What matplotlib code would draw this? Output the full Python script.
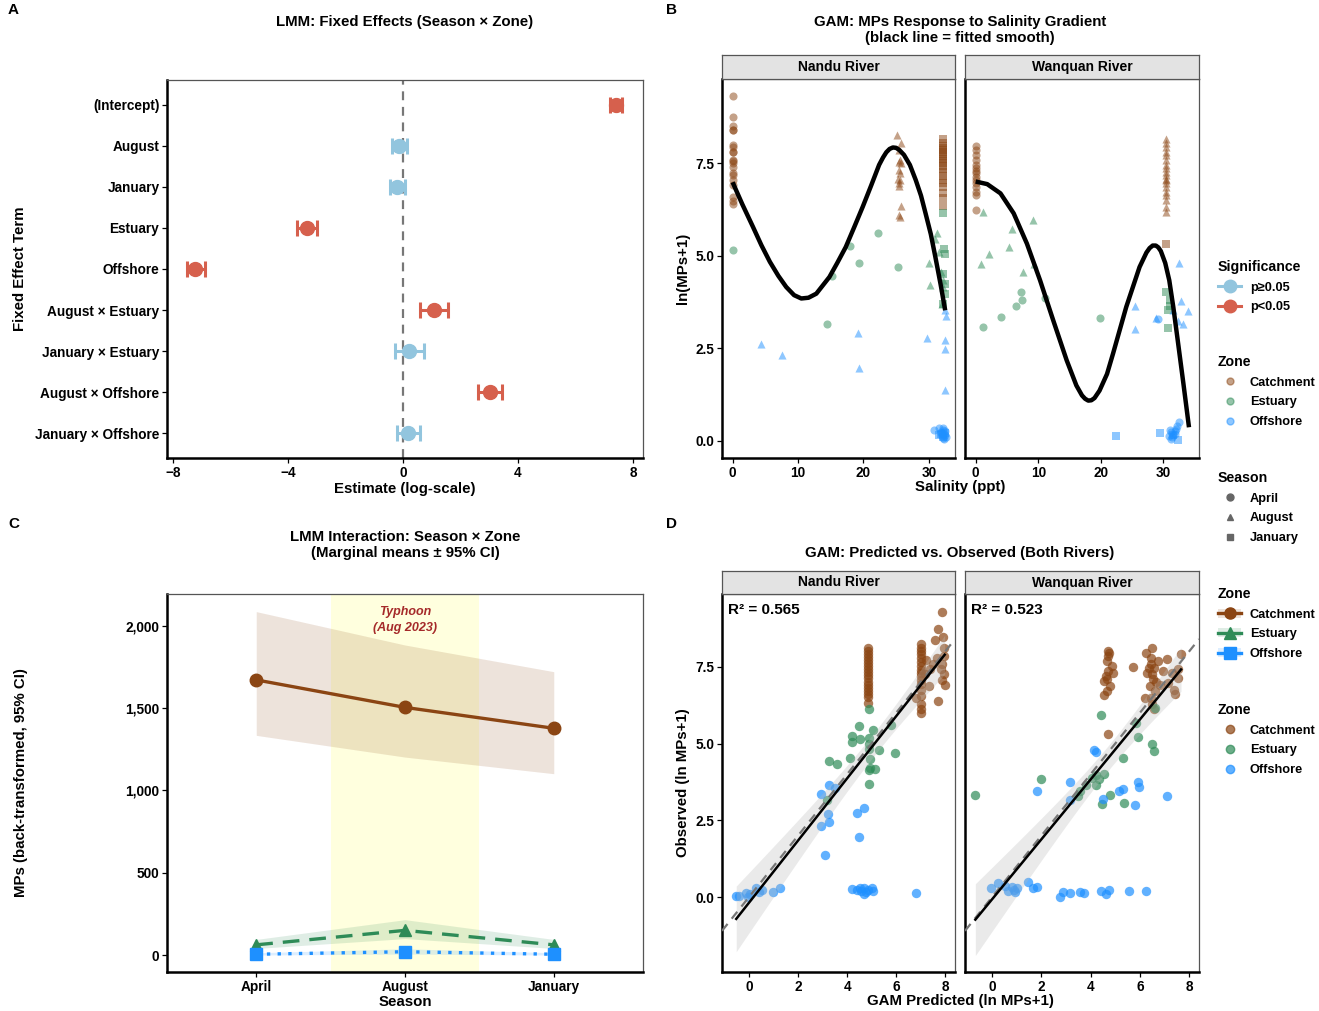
import matplotlib
matplotlib.use("Agg")
import matplotlib.pyplot as plt
from matplotlib.lines import Line2D
from matplotlib.patches import Patch
from matplotlib.ticker import FuncFormatter
import numpy as np

plt.rcParams["font.family"] = ["Liberation Sans", "DejaVu Sans"]
plt.rcParams["font.weight"] = "bold"
plt.rcParams["axes.labelweight"] = "bold"

# ---------------- data: panel A (LMM fixed effects)
terms = ["(Intercept)", "August", "January", "Estuary", "Offshore",
         "August × Estuary", "January × Estuary", "August × Offshore",
         "January × Offshore"]
estimate = [7.41, -0.12, -0.19, -3.32, -7.21, 1.08, 0.22, 3.04, 0.18]
ci_low = [7.19, -0.38, -0.44, -3.67, -7.50, 0.60, -0.26, 2.63, -0.22]
ci_high = [7.63, 0.15, 0.06, -2.97, -6.89, 1.56, 0.73, 3.46, 0.60]
p_sig = [True, False, False, True, True, True, False, True, False]

# ---------------- data: panel B (salinity vs ln(MPs+1))
# Nandu River
nb_catch_apr_sal = 0.0
nb_catch_apr_y = [9.31, 8.74, 8.51, 8.39, 8.38, 7.99, 7.92, 7.81, 7.79, 7.58,
                  7.55, 7.49, 7.38, 7.24, 7.18, 7.04, 6.90, 6.57, 6.48, 6.39]
nb_catch_aug_sal = [25.2, 25.7, 25.5, 25.6, 25.4, 25.7, 25.5, 25.6, 25.3, 25.6,
                    25.4, 25.5, 25.7, 25.5, 25.6]
nb_catch_aug_y = [8.26, 8.03, 7.85, 7.58, 7.54, 7.49, 7.31, 7.22, 7.08, 7.04,
                  6.95, 6.88, 6.34, 6.09, 6.05]
nb_catch_jan_sal = 32.1
nb_catch_jan_y = [8.14, 8.05, 7.95, 7.90, 7.85, 7.80, 7.75, 7.70, 7.62, 7.55,
                  7.50, 7.42, 7.35, 7.25, 7.15, 7.05, 6.95, 6.85, 6.70, 6.55, 6.34]
nb_est_apr_sal = [0.0, 22.3, 17.9, 19.4, 25.3, 15.2, 14.5]
nb_est_apr_y = [5.16, 5.61, 5.26, 4.79, 4.70, 4.45, 3.16]
nb_est_aug_sal = [31.3, 31.0, 30.1, 30.2, 31.6, 31.8, 32.2, 32.2, 32.0]
nb_est_aug_y = [5.60, 5.46, 4.80, 4.21, 5.10, 4.56, 4.35, 4.15, 3.68]
nb_est_jan_sal = [32.1, 32.3, 32.4, 32.2, 32.4, 32.5, 32.1]
nb_est_jan_y = [6.14, 5.19, 5.05, 4.51, 4.24, 3.97, 3.68]
nb_off_apr_sal = [30.8, 31.6, 31.9, 32.1, 32.3, 32.5, 32.0, 32.2, 32.4, 31.8,
                  32.6, 32.1, 32.3]
nb_off_apr_y = [0.29, 0.35, 0.22, 0.30, 0.18, 0.25, 0.12, 0.08, 0.15, 0.20,
                0.10, 0.33, 0.05]
nb_off_aug_sal = [4.4, 7.6, 19.1, 19.4, 29.7, 32.4, 32.4, 32.4, 32.6, 32.4]
nb_off_aug_y = [2.60, 2.32, 2.92, 1.97, 2.77, 2.72, 2.48, 1.37, 3.38, 3.52]
nb_off_jan_sal = [31.5, 31.9, 32.2, 32.5]
nb_off_jan_y = [0.14, 0.18, 0.10, 0.20]
nb_smooth_sal = [0, 1.5, 3.1, 4.4, 5.7, 7.0, 8.2, 9.4, 10.5, 11.6, 12.8, 14.8,
                 16.0, 17.3, 18.6, 19.9, 21.2, 22.4, 23.0, 23.5, 24.0, 24.5,
                 25.0, 25.5, 26.2, 27.1, 28.0, 28.8, 29.5, 30.3, 31.0, 31.8,
                 32.5]
nb_smooth_y = [6.98, 6.38, 5.78, 5.28, 4.83, 4.45, 4.15, 3.93, 3.84, 3.86,
               3.97, 4.42, 4.80, 5.23, 5.77, 6.32, 6.90, 7.45, 7.65, 7.79,
               7.88, 7.92, 7.91, 7.85, 7.72, 7.45, 7.04, 6.62, 6.14, 5.58,
               4.96, 4.22, 3.52]

# Wanquan River
wb_catch_apr_sal = 0.0
wb_catch_apr_y = [7.96, 7.85, 7.72, 7.58, 7.45, 7.36, 7.29, 7.22, 7.13, 7.04,
                  6.95, 6.86, 6.72, 6.63, 6.23]
wb_catch_aug_sal = 30.4
wb_catch_aug_y = [8.14, 8.03, 7.94, 7.81, 7.72, 7.58, 7.45, 7.36, 7.27, 7.18,
                  7.08, 7.04, 6.95, 6.86, 6.72, 6.63, 6.50, 6.32, 6.18]
wb_catch_jan_sal = [30.5]
wb_catch_jan_y = [5.32]
wb_est_apr_sal = [7.3, 7.4, 6.5, 11.1, 4.0, 1.2, 19.8]
wb_est_apr_y = [4.01, 3.79, 3.63, 3.85, 3.34, 3.07, 3.32]
wb_est_aug_sal = [1.2, 9.2, 5.8, 5.4, 2.2, 0.8, 9.4, 7.5]
wb_est_aug_y = [6.19, 5.97, 5.71, 5.24, 5.03, 4.77, 4.77, 4.55]
wb_est_jan_sal = [30.5, 31.0, 31.0, 30.8, 30.7]
wb_est_jan_y = [4.01, 3.79, 3.63, 3.52, 3.04]
wb_off_apr_sal = [29.1, 31.0, 31.3, 31.6, 31.9, 32.2, 32.5, 31.4, 31.8, 32.0,
                  31.2, 30.9]
wb_off_apr_y = [3.29, 0.30, 0.22, 0.15, 0.25, 0.40, 0.50, 0.10, 0.18, 0.32,
                0.05, 0.12]
wb_off_aug_sal = [32.5, 32.8, 34.0, 33.1, 32.3, 25.4, 25.4, 31.5, 28.8]
wb_off_aug_y = [4.81, 3.77, 3.50, 3.16, 3.22, 3.64, 3.02, 3.52, 3.32]
wb_off_jan_sal = [22.5, 29.4, 32.3, 31.5]
wb_off_jan_y = [0.12, 0.20, 0.02, 0.15]
wb_smooth_sal = [0, 1.85, 3.97, 6.08, 8.2, 10.3, 12.4, 14.55, 16.1, 17.0, 17.5,
                 18.0, 18.5, 19.0, 19.8, 21.0, 21.96, 24.07, 26.2, 27.3, 27.8,
                 28.3, 28.8, 29.2, 29.6, 30.3, 30.95, 31.6, 32.3, 33.2, 34.1]
wb_smooth_y = [7.0, 6.93, 6.68, 6.14, 5.32, 4.33, 3.25, 2.17, 1.49, 1.22, 1.13,
               1.08, 1.09, 1.15, 1.35, 1.80, 2.35, 3.61, 4.69, 5.08, 5.20,
               5.27, 5.27, 5.22, 5.12, 4.80, 4.33, 3.60, 2.71, 1.55, 0.36]

# ---------------- data: panel C (marginal means)
seasons = ["April", "August", "January"]
catch_mean = [1672, 1505, 1378]
catch_lo = [1335, 1203, 1102]
catch_hi = [2087, 1884, 1722]
est_mean = [62, 150, 62]
est_lo = [40, 100, 40]
est_hi = [95, 215, 95]
off_mean = [5, 20, 5]
off_lo = [0, 6, 0]
off_hi = [14, 38, 14]

# ---------------- data: panel D (GAM predicted vs observed)
nd_catch_col1_pred = 4.86
nd_catch_col1_obs = [8.12, 8.02, 7.92, 7.82, 7.72, 7.62, 7.52, 7.42, 7.32, 7.22,
                     7.12, 7.02, 6.92, 6.82, 6.72, 6.62, 6.50, 6.33]
nd_catch_col2_pred = 7.0
nd_catch_col2_obs = [8.23, 8.12, 8.01, 7.90, 7.78, 7.65, 7.52, 7.40, 7.30, 7.20,
                     7.08, 6.95, 6.75, 6.55, 6.30, 6.12, 6.00]
nd_catch_pred = [7.85, 7.71, 7.59, 7.91, 7.95, 7.67, 7.38, 7.23, 7.95, 7.88,
                 7.81, 7.95, 7.88, 7.98, 7.33, 7.69, 7.52, 7.16, 6.80]
nd_catch_obs = [9.28, 8.72, 8.36, 8.47, 8.12, 7.80, 7.42, 7.71, 7.85, 7.58,
                7.42, 7.25, 7.07, 6.90, 6.87, 6.38, 7.58, 7.25, 6.49]
nd_est_pred = [4.88, 4.50, 5.79, 4.21, 4.21, 4.54, 5.07, 4.90, 4.90, 4.90, 5.32,
               4.11, 5.97, 3.26, 3.59, 4.93, 4.93, 5.14, 4.88, 4.88, 3.17]
nd_est_obs = [6.11, 5.57, 5.60, 5.24, 5.06, 5.16, 5.43, 5.17, 4.97, 4.81, 4.78,
              4.54, 4.68, 4.43, 4.34, 4.51, 4.21, 4.18, 4.13, 3.67, 3.15]
nd_off_pred = [2.93, 3.27, 3.49, 3.23, 3.27, 2.94, 4.39, 4.70, 4.47, 3.11,
               -0.52, -0.40, -0.14, 0.06, 0.29, 0.39, 0.53, 0.97, 1.27, -0.04,
               4.21, 4.42, 4.57, 4.67, 4.76, 4.86, 5.00, 5.04, 4.52, 4.71, 6.80]
nd_off_obs = [3.37, 3.65, 3.54, 2.69, 2.45, 2.31, 2.75, 2.91, 1.95, 1.37,
              0.03, 0.03, 0.14, 0.09, 0.28, 0.17, 0.22, 0.17, 0.28, 0.00,
              0.25, 0.22, 0.20, 0.30, 0.17, 0.22, 0.30, 0.20, 0.28, 0.11, 0.12]

wd_catch_pred = [4.70, 4.72, 4.68, 4.85, 4.70, 4.63, 4.56, 4.80, 4.65, 4.56,
                 4.92, 4.70, 4.75, 4.68, 5.72, 6.51, 6.25, 6.45, 6.73, 6.58,
                 6.30, 6.51, 6.40, 6.66, 6.44, 6.51, 6.58, 7.09, 6.95, 7.16,
                 7.38, 7.41, 7.55, 7.67, 7.55, 7.31, 6.80, 6.22, 6.45, 6.55,
                 6.35, 6.60]
wd_catch_obs = [8.01, 7.85, 7.69, 7.52, 7.36, 7.20, 7.04, 6.87, 6.71, 6.58,
                7.30, 5.30, 7.95, 7.10, 7.50, 8.12, 7.96, 7.80, 7.69, 7.47,
                7.31, 7.25, 6.87, 7.00, 6.49, 6.28, 6.11, 7.74, 7.36, 6.98,
                6.73, 6.60, 7.42, 7.90, 7.14, 7.29, 6.90, 6.49, 7.60, 7.10,
                7.45, 6.70]
wd_est_pred = [-0.68, 1.98, 4.41, 5.83, 5.93, 6.48, 6.56, 6.61, 5.33, 4.56, 4.23,
               4.34, 4.23, 3.83, 3.50, 4.78, 4.46, 5.35, 4.05, 3.55]
wd_est_obs = [3.32, 3.85, 5.93, 5.66, 5.21, 4.99, 4.76, 6.15, 4.52, 4.00, 3.96,
              3.83, 3.64, 3.64, 3.29, 3.34, 3.04, 3.05, 3.89, 3.45]
wd_off_pred = [4.12, 4.20, 3.18, 1.81, 3.15, 4.49, 5.14, 5.31, 5.93, 5.98, 5.79,
               7.09, -0.03, 0.22, 0.51, 0.65, 0.80, 0.90, 1.01, 0.94, 1.45, 1.66,
               1.84, 2.75, 2.89, 3.15, 3.55, 3.72, 4.41, 4.63, 4.73, 5.54, 6.25]
wd_off_obs = [4.78, 4.73, 3.75, 3.47, 3.15, 3.18, 3.47, 3.51, 3.76, 3.58, 2.99,
              3.29, 0.30, 0.47, 0.36, 0.20, 0.33, 0.22, 0.28, 0.17, 0.49, 0.28,
              0.34, 0.00, 0.17, 0.14, 0.17, 0.12, 0.20, 0.11, 0.22, 0.20, 0.20]
r2_nandu = 0.565
r2_wanquan = 0.523

# ---------------- style
zone_col = {"Catchment": "#8B4513", "Estuary": "#2E8B57", "Offshore": "#1E90FF"}
sig_col = {True: "#D6604D", False: "#92C5DE"}
season_mk = {"April": "o", "August": "^", "January": "s"}

W, H = 1319, 1011
fig = plt.figure(figsize=(W / 100, H / 100), dpi=100)


def add_ax(l, t, r, b):
    return fig.add_axes([l / W, 1 - b / H, (r - l) / W, (b - t) / H])


def style(ax):
    for s in ["left", "bottom"]:
        ax.spines[s].set_linewidth(1.8)
        ax.spines[s].set_color("black")
    for s in ["top", "right"]:
        ax.spines[s].set_linewidth(0.9)
        ax.spines[s].set_color("#555555")
    ax.tick_params(length=3.5, width=0.9, labelsize=9.8, pad=2,
                   colors="black")


def strip(l, t, r, b, label):
    s = add_ax(l, t, r, b)
    s.set_facecolor("#E3E3E3")
    s.set_xticks([])
    s.set_yticks([])
    for sp in s.spines.values():
        sp.set_linewidth(0.9)
        sp.set_color("#555555")
    s.text(0.5, 0.5, label, ha="center", va="center", fontsize=10,
           fontweight="bold", transform=s.transAxes)


def fig_text(x, y, s, **kw):
    fig.text(x / W, 1 - y / H, s, **kw)


TFS = 10.8

# ---------------- panel A
axA = add_ax(167, 80, 643, 458)
style(axA)
axA.axvline(0, color="#777777", ls=(0, (4, 3)), lw=1.6, zorder=1)
for i, t in enumerate(terms):
    c = sig_col[p_sig[i]]
    axA.errorbar(estimate[i], i,
                 xerr=[[estimate[i] - ci_low[i]], [ci_high[i] - estimate[i]]],
                 fmt="o", color=c, ms=10, elinewidth=2.2, capsize=5.5,
                 capthick=2.2, zorder=3)
axA.set_yticks(range(len(terms)))
axA.set_yticklabels(terms)
axA.set_ylim(len(terms) - 0.4, -0.6)
axA.set_xlim(-8.2, 8.35)
axA.set_xticks([-8, -4, 0, 4, 8])
axA.set_xlabel("Estimate (log-scale)", fontsize=TFS, labelpad=2)
axA.set_ylabel("Fixed Effect Term", fontsize=TFS, labelpad=6)
fig_text(405, 22, "LMM: Fixed Effects (Season × Zone)", ha="center",
         va="center", fontsize=TFS, fontweight="bold")

# ---------------- panel B
b_groups = {
    "Nandu River": [
        ("Catchment", "April", np.full(len(nb_catch_apr_y), nb_catch_apr_sal), nb_catch_apr_y),
        ("Catchment", "August", nb_catch_aug_sal, nb_catch_aug_y),
        ("Catchment", "January", np.full(len(nb_catch_jan_y), nb_catch_jan_sal), nb_catch_jan_y),
        ("Estuary", "April", nb_est_apr_sal, nb_est_apr_y),
        ("Estuary", "August", nb_est_aug_sal, nb_est_aug_y),
        ("Estuary", "January", nb_est_jan_sal, nb_est_jan_y),
        ("Offshore", "April", nb_off_apr_sal, nb_off_apr_y),
        ("Offshore", "August", nb_off_aug_sal, nb_off_aug_y),
        ("Offshore", "January", nb_off_jan_sal, nb_off_jan_y),
    ],
    "Wanquan River": [
        ("Catchment", "April", np.full(len(wb_catch_apr_y), wb_catch_apr_sal), wb_catch_apr_y),
        ("Catchment", "August", np.full(len(wb_catch_aug_y), wb_catch_aug_sal), wb_catch_aug_y),
        ("Catchment", "January", wb_catch_jan_sal, wb_catch_jan_y),
        ("Estuary", "April", wb_est_apr_sal, wb_est_apr_y),
        ("Estuary", "August", wb_est_aug_sal, wb_est_aug_y),
        ("Estuary", "January", wb_est_jan_sal, wb_est_jan_y),
        ("Offshore", "April", wb_off_apr_sal, wb_off_apr_y),
        ("Offshore", "August", wb_off_aug_sal, wb_off_aug_y),
        ("Offshore", "January", wb_off_jan_sal, wb_off_jan_y),
    ],
}
b_smooth = {"Nandu River": (nb_smooth_sal, nb_smooth_y),
            "Wanquan River": (wb_smooth_sal, wb_smooth_y)}
b_xlim = {"Nandu River": (-1.62, 34.0), "Wanquan River": (-1.7, 35.7)}
b_pos = {"Nandu River": (722, 955), "Wanquan River": (965, 1199)}

for k, river in enumerate(["Nandu River", "Wanquan River"]):
    l, r = b_pos[river]
    ax = add_ax(l, 79, r, 458)
    style(ax)
    strip(l, 55, r, 79, river)
    for zone, season, xs, ys in b_groups[river]:
        ax.scatter(xs, ys, s=34, marker=season_mk[season], color=zone_col[zone],
                   alpha=0.5, linewidths=0, zorder=2)
    sx, sy = b_smooth[river]
    ax.plot(sx, sy, color="black", lw=3.2, solid_capstyle="butt",
            solid_joinstyle="round", zorder=3)
    ax.set_xlim(*b_xlim[river])
    ax.set_ylim(-0.47, 9.77)
    ax.set_xticks([0, 10, 20, 30])
    ax.set_yticks([0, 2.5, 5.0, 7.5])
    if k == 0:
        ax.set_yticklabels(["0.0", "2.5", "5.0", "7.5"])
        ax.set_ylabel("ln(MPs+1)", fontsize=TFS, labelpad=4)
    else:
        ax.tick_params(axis="y", length=0, labelleft=False)
fig_text(960, 22, "GAM: MPs Response to Salinity Gradient", ha="center",
         va="center", fontsize=TFS, fontweight="bold")
fig_text(960, 38, "(black line = fitted smooth)", ha="center",
         va="center", fontsize=TFS, fontweight="bold")
fig_text(960, 487, "Salinity (ppt)", ha="center", va="center", fontsize=TFS,
         fontweight="bold")

# ---------------- panel C
axC = add_ax(167, 594, 643, 972)
style(axC)
xC = np.arange(len(seasons))
axC.axvspan(0.5, 1.5, color="#FFFFD6", alpha=0.8, lw=0, zorder=0)
c_series = [
    ("Catchment", catch_mean, catch_lo, catch_hi, "-", "o", 9),
    ("Estuary", est_mean, est_lo, est_hi, (0, (5, 3)), "^", 9),
    ("Offshore", off_mean, off_lo, off_hi, (0, (1, 2.2)), "s", 8),
]
for zone, m, lo, hi, ls, mk, ms in c_series:
    c = zone_col[zone]
    axC.fill_between(xC, lo, hi, color=c, alpha=0.15, lw=0, zorder=1)
    axC.plot(xC, m, color=c, ls=ls, lw=2.4, zorder=2)
    axC.plot(xC, m, color=c, ls="none", marker=mk, ms=ms, zorder=3)
axC.text(1, 2035, "Typhoon\n(Aug 2023)", ha="center", va="center",
         color="#A52A2A", fontsize=9, fontstyle="italic", fontweight="bold",
         linespacing=1.5)
axC.set_xlim(-0.6, 2.6)
axC.set_ylim(-103, 2194)
axC.set_xticks(xC)
axC.set_xticklabels(seasons)
axC.set_yticks([0, 500, 1000, 1500, 2000])
axC.yaxis.set_major_formatter(FuncFormatter(lambda v, p: f"{int(v):,}"))
axC.set_xlabel("Season", fontsize=TFS, labelpad=1)
axC.set_ylabel("MPs (back-transformed, 95% CI)", fontsize=TFS, labelpad=70)
fig_text(405, 537, "LMM Interaction: Season × Zone", ha="center",
         va="center", fontsize=TFS, fontweight="bold")
fig_text(405, 553, "(Marginal means ± 95% CI)", ha="center",
         va="center", fontsize=TFS, fontweight="bold")

# ---------------- panel D
d_data = {
    "Nandu River": [
        ("Catchment", np.full(len(nd_catch_col1_obs), nd_catch_col1_pred), nd_catch_col1_obs),
        ("Catchment", np.full(len(nd_catch_col2_obs), nd_catch_col2_pred), nd_catch_col2_obs),
        ("Catchment", nd_catch_pred, nd_catch_obs),
        ("Estuary", nd_est_pred, nd_est_obs),
        ("Offshore", nd_off_pred, nd_off_obs),
    ],
    "Wanquan River": [
        ("Catchment", wd_catch_pred, wd_catch_obs),
        ("Estuary", wd_est_pred, wd_est_obs),
        ("Offshore", wd_off_pred, wd_off_obs),
    ],
}
d_r2 = {"Nandu River": r2_nandu, "Wanquan River": r2_wanquan}

for k, river in enumerate(["Nandu River", "Wanquan River"]):
    l, r = b_pos[river]
    ax = add_ax(l, 594, r, 972)
    style(ax)
    strip(l, 571, r, 594, river)
    allx, ally = [], []
    for zone, xs, ys in d_data[river]:
        ax.scatter(xs, ys, s=46, color=zone_col[zone], alpha=0.7,
                   linewidths=0, zorder=2)
        allx += list(xs)
        ally += list(ys)
    x = np.array(allx)
    y = np.array(ally)
    b1, b0 = np.polyfit(x, y, 1)
    n = len(x)
    s = np.sqrt(np.sum((y - (b0 + b1 * x)) ** 2) / (n - 2))
    sxx = np.sum((x - x.mean()) ** 2)
    xs = np.linspace(x.min(), x.max(), 100)
    fit = b0 + b1 * xs
    se = s * np.sqrt(1 / n + (xs - x.mean()) ** 2 / sxx)
    ax.fill_between(xs, fit - 1.97 * se, fit + 1.97 * se, color="#BBBBBB",
                    alpha=0.3, lw=0, zorder=3)
    ax.axline((0, 0), slope=1, color="#777777", ls=(0, (4, 3)), lw=1.6,
              zorder=4)
    ax.plot(xs, fit, color="black", lw=1.8, zorder=5)
    ax.text(0.025, 0.975, f"R² = {d_r2[river]:.3f}", transform=ax.transAxes,
            ha="left", va="top", fontsize=11, fontweight="bold")
    ax.set_xlim(-1.1, 8.4)
    ax.set_ylim(-2.44, 9.87)
    ax.set_xticks([0, 2, 4, 6, 8])
    ax.set_yticks([0, 2.5, 5.0, 7.5])
    if k == 0:
        ax.set_yticklabels(["0.0", "2.5", "5.0", "7.5"])
        ax.set_ylabel("Observed (ln MPs+1)", fontsize=TFS, labelpad=4)
    else:
        ax.tick_params(axis="y", length=0, labelleft=False)
fig_text(960, 553, "GAM: Predicted vs. Observed (Both Rivers)", ha="center",
         va="center", fontsize=TFS, fontweight="bold")
fig_text(960, 1001, "GAM Predicted (ln MPs+1)", ha="center", va="center",
         fontsize=TFS, fontweight="bold")

# ---------------- panel letters
for lab, (px, py) in {"A": (8, 10), "B": (666, 10), "C": (8, 524),
                      "D": (666, 524)}.items():
    fig_text(px, py, lab, ha="left", va="center", fontsize=11,
             fontweight="bold")


# ---------------- legends
def legend(handles, labels, title, top):
    lg = fig.legend(handles, labels, title=title, loc="upper left",
                    bbox_to_anchor=(1218 / W, 1 - top / H), frameon=False,
                    fontsize=9.2, title_fontsize=10.2, alignment="left",
                    handlelength=1.8, handletextpad=0.7, labelspacing=0.6,
                    borderpad=0, borderaxespad=0)
    lg.get_title().set_fontweight("bold")
    return lg


zones = ["Catchment", "Estuary", "Offshore"]
legend([Line2D([], [], color=sig_col[v], marker="o", ms=9, lw=2.2)
        for v in [False, True]], ["p≥0.05", "p<0.05"], "Significance", 260)
legend([Line2D([], [], color=zone_col[z], marker="o", ms=5, ls="none",
               alpha=0.5) for z in zones], zones, "Zone", 355)
legend([Line2D([], [], color="#666666", marker=season_mk[s], ms=5, ls="none")
        for s in seasons], seasons, "Season", 471)
legend([(Patch(facecolor=zone_col[z], alpha=0.15, lw=0),
         Line2D([], [], color=zone_col[z], marker=mk, ms=8, lw=2.4))
        for z, mk in zip(zones, ["o", "^", "s"])], zones, "Zone", 587)
legend([Line2D([], [], color=zone_col[z], marker="o", ms=6, ls="none",
               alpha=0.7) for z in zones], zones, "Zone", 703)

fig.savefig("out.png", dpi=100)
